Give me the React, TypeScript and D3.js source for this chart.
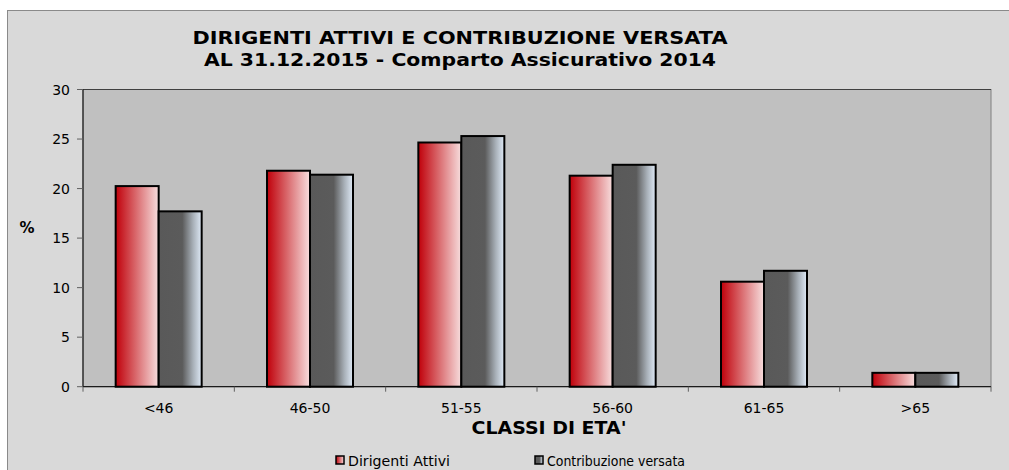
import React from "react";
import * as d3 from "d3";

const categories = ["<46", "46-50", "51-55", "56-60", "61-65", ">65"];
const dirigenti = [20.25, 21.8, 24.65, 21.3, 10.6, 1.4];
const contribuzione = [17.7, 21.4, 25.3, 22.4, 11.7, 1.4];
const yTicks = [0, 5, 10, 15, 20, 25, 30];
const seriesNames = ["Dirigenti Attivi", "Contribuzione versata"];

const W = 1009, H = 470;
const plot = { left: 83, right: 991, top: 89.5, bottom: 386.7 };
const FONT = "Verdana, 'DejaVu Sans', sans-serif";

export default function App() {
  const x = d3.scaleBand().domain(categories).range([plot.left, plot.right]).padding(0);
  const y = d3.scaleLinear().domain([0, 30]).range([plot.bottom, plot.top]);
  const bw = 43;
  const series = [
    { name: seriesNames[0], values: dirigenti, fill: "url(#gRed)", off: -bw, lx: 336, tl: 102 },
    { name: seriesNames[1], values: contribuzione, fill: "url(#gGray)", off: 0, lx: 535, tl: 138 },
  ];
  return (
    <svg width={W} height={H} style={{ position: "absolute", left: 0, top: 0 }} fontFamily={FONT}>
      <defs>
        <linearGradient id="gRed" x1="0" x2="1" y1="0" y2="0">
          <stop offset="0" stopColor="#c0000a" />
          <stop offset="0.45" stopColor="#d86468" />
          <stop offset="1" stopColor="#f7dede" />
        </linearGradient>
        <linearGradient id="gGray" x1="0" x2="1" y1="0" y2="0">
          <stop offset="0" stopColor="#595959" />
          <stop offset="0.55" stopColor="#5b5b5b" />
          <stop offset="0.8" stopColor="#a8b0b8" />
          <stop offset="1" stopColor="#dfeaf7" />
        </linearGradient>
      </defs>
      <rect x={0} y={0} width={W} height={H} fill="#ffffff" />
      <rect x={7.5} y={10.5} width={W + 10} height={H + 10} fill="#d9d9d9" stroke="#8a8a8a" strokeWidth={1} />
      <text x={460} y={44} textAnchor="middle" fontSize={18} fontWeight="bold" fill="#000"
        textLength={535} lengthAdjust="spacingAndGlyphs">
        DIRIGENTI ATTIVI E CONTRIBUZIONE VERSATA
      </text>
      <text x={460} y={66} textAnchor="middle" fontSize={18} fontWeight="bold" fill="#000"
        textLength={512} lengthAdjust="spacingAndGlyphs">
        AL 31.12.2015 - Comparto Assicurativo 2014
      </text>
      <rect x={plot.left} y={plot.top} width={plot.right - plot.left} height={plot.bottom - plot.top}
        fill="#c0c0c0" stroke="#808080" strokeWidth={1} />
      <line x1={plot.left} x2={plot.right} y1={plot.top} y2={plot.top} stroke="#404040" />
      {series.map((s, si) =>
        s.values.map((v, i) => {
          const cx = (x(categories[i]) as number) + x.bandwidth() / 2;
          return (
            <rect key={si + "-" + i} x={cx + s.off} y={y(v)} width={bw} height={y(0) - y(v)}
              fill={s.fill} stroke="#000" strokeWidth={2} />
          );
        })
      )}
      <line x1={plot.left} x2={plot.left} y1={plot.top} y2={plot.bottom} stroke="#000" />
      <line x1={plot.left} x2={plot.right} y1={plot.bottom} y2={plot.bottom} stroke="#000" />
      {yTicks.map((t) => (
        <g key={t}>
          <line x1={plot.left - 6} x2={plot.left} y1={y(t)} y2={y(t)} stroke="#606060" />
          <text x={plot.left - 13} y={y(t) + 5} textAnchor="end" fontSize={14} fill="#000">{t}</text>
        </g>
      ))}
      {categories.map((c) => (
        <g key={c}>
          <line x1={x(c) as number} x2={x(c) as number} y1={plot.bottom} y2={plot.bottom + 5} stroke="#606060" />
          <text x={(x(c) as number) + x.bandwidth() / 2} y={413} textAnchor="middle" fontSize={14} fill="#000">{c}</text>
        </g>
      ))}
      <line x1={plot.right} x2={plot.right} y1={plot.bottom} y2={plot.bottom + 5} stroke="#606060" />
      <text x={(plot.left + plot.right) / 2 + 12} y={434} textAnchor="middle" fontSize={17} fontWeight="bold"
        textLength={155} lengthAdjust="spacingAndGlyphs">CLASSI DI ETA'</text>
      <text x={27} y={233} textAnchor="middle" fontSize={15} fontWeight="bold">%</text>
      {series.map((s) => (
        <g key={s.name}>
          <rect x={s.lx} y={456} width={8} height={8} fill={s.fill} stroke="#000" strokeWidth={1.5} />
          <text x={s.lx + 12} y={466} fontSize={14} fill="#000" textLength={s.tl} lengthAdjust="spacingAndGlyphs">{s.name}</text>
        </g>
      ))}
    </svg>
  );
}
